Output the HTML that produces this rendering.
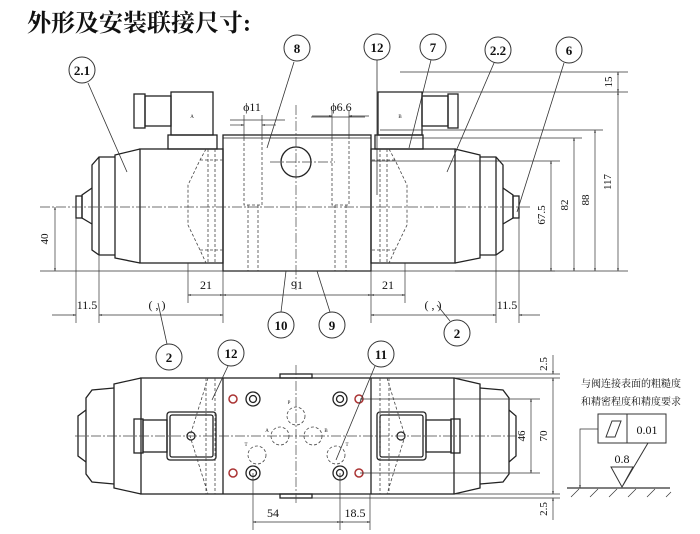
<!DOCTYPE html>
<html><head><meta charset="utf-8"><style>
html,body{margin:0;padding:0;background:#fff}
svg{display:block}
text{font-family:"Liberation Serif","Noto Serif CJK SC",serif;fill:#111}
</style></head><body>
<svg width="700" height="534" viewBox="0 0 700 534" xmlns="http://www.w3.org/2000/svg">
<defs>
<marker id="a" viewBox="0 0 10 10" refX="10" refY="5" markerWidth="6" markerHeight="4" orient="auto-start-reverse"><path d="M0,2 L10,5 L0,8z" fill="#222"/></marker>
</defs>
<text x="27" y="31" font-size="24" font-weight="bold" font-family="'Noto Serif CJK SC',serif">外形及安装联接尺寸:</text>

<g fill="none" stroke="#222" stroke-width="1.3">
<rect x="223" y="135" width="148" height="136"/>
<line x1="223" y1="138" x2="371" y2="138" stroke-width="0.8"/>
<circle cx="296" cy="162" r="15"/>
<rect x="140" y="149" width="83" height="114"/>
<path d="M140,149 L115,155 L115,258 L140,263"/>
<path d="M115,157 L99,157 L92,165 L92,250 L99,255 L115,255"/>
<path d="M92,188 L82,195 L82,218 L92,224"/>
<rect x="76" y="196" width="6" height="22"/>
<line x1="99" y1="157" x2="99" y2="255"/>
<rect x="168" y="135" width="49" height="14"/>
<rect x="171" y="92" width="42" height="43"/>
<rect x="145" y="96" width="26" height="30"/>
<rect x="134" y="94" width="11" height="34"/>
<rect x="371" y="149" width="84" height="114"/>
<path d="M455,149 L480,155 L480,258 L455,263"/>
<path d="M480,157 L496,157 L503,165 L503,250 L496,255 L480,255"/>
<path d="M503,188 L513,195 L513,218 L503,224"/>
<rect x="513" y="196" width="6" height="22"/>
<line x1="496" y1="157" x2="496" y2="255"/>
<rect x="375" y="135" width="48" height="14"/>
<rect x="378" y="92" width="44" height="43"/>
<rect x="422" y="96" width="26" height="30"/>
<rect x="448" y="94" width="10" height="34"/>

<rect x="141" y="378" width="313" height="116"/>
<line x1="223" y1="378" x2="223" y2="494"/>
<line x1="371" y1="378" x2="371" y2="494"/>
<path d="M141,378 L114,384 L114,488 L141,494"/>
<path d="M114,388 L92,390 L86,398 L86,474 L92,482 L114,484"/>
<path d="M86,410 L78,416 L78,456 L86,462"/>
<path d="M454,378 L480,384 L480,488 L454,494"/>
<path d="M480,388 L503,390 L509,398 L509,474 L503,482 L480,484"/>
<path d="M509,410 L516,416 L516,456 L509,462"/>
<rect x="280" y="374" width="32" height="4"/>
<rect x="280" y="494" width="32" height="4"/>
<rect x="167" y="412" width="49" height="48" rx="3"/>
<rect x="170" y="415" width="43" height="42" rx="2"/>
<rect x="143" y="420" width="24" height="32"/>
<rect x="134" y="419" width="9" height="34"/>
<circle cx="191" cy="436" r="4"/>
<rect x="377" y="412" width="49" height="48" rx="3"/>
<rect x="380" y="415" width="43" height="42" rx="2"/>
<rect x="426" y="420" width="25" height="32"/>
<rect x="451" y="419" width="9" height="34"/>
<circle cx="401" cy="436" r="4"/>
<circle cx="253" cy="399" r="7"/><circle cx="253" cy="399" r="3.5"/>
<circle cx="253" cy="473" r="7"/><circle cx="253" cy="473" r="3.5"/>
<circle cx="340" cy="399" r="7"/><circle cx="340" cy="399" r="3.5"/>
<circle cx="340" cy="473" r="7"/><circle cx="340" cy="473" r="3.5"/>
</g>
<g fill="#fff" stroke="#a33" stroke-width="1.5">
<circle cx="233" cy="399" r="4"/><circle cx="233" cy="473" r="4"/>
<circle cx="359" cy="399" r="4"/><circle cx="359" cy="473" r="4"/>
</g>

<g fill="none" stroke="#444" stroke-width="0.8" stroke-dasharray="3,2">
<path d="M244,138 V205 H262 V138 M248,205 V271 M258,205 V271"/>
<path d="M332,138 V205 H349 V138 M335,205 V271 M346,205 V271"/>
<path d="M206,149 L200,160 L188,185 V225 L200,250 L206,263 M208,149 V263 M215,149 V263 M200,160 H223 M200,250 H223"/>
<path d="M389,149 L395,160 L407,185 V225 L395,250 L389,263 M387,149 V263 M380,149 V263 M395,160 H371 M395,250 H371"/>
<path d="M208,378 L190,436 L208,494 M206,378 V494 M215,378 V494"/>
<path d="M387,378 L405,436 L387,494 M389,378 V494 M380,378 V494"/>
<circle cx="296" cy="416" r="9"/><circle cx="280" cy="436" r="9"/><circle cx="313" cy="436" r="9"/>
<circle cx="257" cy="455" r="9"/><circle cx="336" cy="455" r="9"/>
</g>

<g stroke="#444" stroke-width="0.7" fill="none" stroke-dasharray="10,2,2,2">
<line x1="40" y1="207" x2="530" y2="207"/>
<line x1="296" y1="105" x2="296" y2="290"/>
<line x1="270" y1="162" x2="335" y2="162"/>
<line x1="75" y1="436" x2="520" y2="436"/>
<line x1="296" y1="365" x2="296" y2="505"/>
</g>

<g stroke="#333" stroke-width="0.7" fill="none">
<line x1="223" y1="271" x2="555" y2="271"/>
<line x1="40" y1="271" x2="223" y2="271"/>
<line x1="400" y1="72" x2="628" y2="72"/>
<line x1="380" y1="92" x2="628" y2="92"/>
<line x1="380" y1="130" x2="603" y2="130"/>
<line x1="380" y1="138" x2="582" y2="138"/>
<line x1="371" y1="161" x2="560" y2="161"/>
<line x1="455" y1="271" x2="628" y2="271"/>
<line x1="618" y1="72" x2="618" y2="92" marker-start="url(#a)" marker-end="url(#a)"/>
<line x1="618" y1="92" x2="618" y2="271" marker-start="url(#a)" marker-end="url(#a)"/>
<line x1="595" y1="130" x2="595" y2="271" marker-start="url(#a)" marker-end="url(#a)"/>
<line x1="574" y1="138" x2="574" y2="271" marker-start="url(#a)" marker-end="url(#a)"/>
<line x1="551" y1="161" x2="551" y2="271" marker-start="url(#a)" marker-end="url(#a)"/>
<line x1="55" y1="207" x2="55" y2="271" marker-start="url(#a)" marker-end="url(#a)"/>
<line x1="230" y1="120" x2="285" y2="120"/>
<line x1="230" y1="125" x2="244" y2="125" marker-end="url(#a)"/>
<line x1="276" y1="125" x2="262" y2="125" marker-end="url(#a)"/>
<line x1="311" y1="117" x2="365" y2="117"/>
<line x1="312" y1="116" x2="332" y2="116" marker-end="url(#a)"/>
<line x1="369" y1="116" x2="349" y2="116" marker-end="url(#a)"/>
<line x1="244" y1="115" x2="244" y2="138"/><line x1="262" y1="115" x2="262" y2="138"/>
<line x1="332" y1="110" x2="332" y2="138"/><line x1="349" y1="110" x2="349" y2="138"/>
<line x1="188" y1="263" x2="188" y2="303"/><line x1="223" y1="271" x2="223" y2="323"/>
<line x1="371" y1="271" x2="371" y2="323"/><line x1="405" y1="263" x2="405" y2="303"/>
<line x1="188" y1="295" x2="223" y2="295" marker-start="url(#a)" marker-end="url(#a)"/>
<line x1="223" y1="295" x2="371" y2="295" marker-start="url(#a)" marker-end="url(#a)"/>
<line x1="371" y1="295" x2="405" y2="295" marker-start="url(#a)" marker-end="url(#a)"/>
<line x1="76" y1="218" x2="76" y2="323"/><line x1="99" y1="255" x2="99" y2="323"/>
<line x1="519" y1="218" x2="519" y2="323"/><line x1="496" y1="255" x2="496" y2="323"/>
<line x1="52" y1="315" x2="76" y2="315" marker-end="url(#a)"/>
<line x1="99" y1="315" x2="223" y2="315" marker-start="url(#a)" marker-end="url(#a)"/>
<line x1="371" y1="315" x2="496" y2="315" marker-start="url(#a)" marker-end="url(#a)"/>
<line x1="540" y1="315" x2="519" y2="315" marker-end="url(#a)"/>
<line x1="312" y1="374" x2="560" y2="374"/>
<line x1="454" y1="378" x2="560" y2="378"/>
<line x1="360" y1="399" x2="540" y2="399"/>
<line x1="360" y1="473" x2="540" y2="473"/>
<line x1="454" y1="494" x2="560" y2="494"/>
<line x1="312" y1="498" x2="560" y2="498"/>
<line x1="531" y1="399" x2="531" y2="473" marker-start="url(#a)" marker-end="url(#a)"/>
<line x1="553" y1="378" x2="553" y2="494" marker-start="url(#a)" marker-end="url(#a)"/>
<line x1="553" y1="355" x2="553" y2="374" marker-end="url(#a)"/>
<line x1="553" y1="520" x2="553" y2="498" marker-end="url(#a)"/>
<line x1="253" y1="473" x2="253" y2="530"/><line x1="340" y1="473" x2="340" y2="530"/>
<line x1="370" y1="494" x2="370" y2="530"/>
<line x1="253" y1="522" x2="340" y2="522" marker-start="url(#a)" marker-end="url(#a)"/>
<line x1="340" y1="522" x2="370" y2="522" marker-start="url(#a)" marker-end="url(#a)"/>
<rect x="598" y="414" width="68" height="29" stroke-width="1"/>
<line x1="627" y1="414" x2="627" y2="443" stroke-width="1"/>
<path d="M606,437 L612,421 L621,421 L615,437z" stroke-width="1"/>
<path d="M598,429 H580 V488" marker-end="url(#a)"/>
<line x1="567" y1="488" x2="670" y2="488" stroke-width="1.2"/>
<path d="M611,467 H633 L622,487z M622,487 L648,443" stroke-width="1"/>
<path d="M571,497 l8,-8 M590,497 l8,-8 M609,497 l8,-8 M628,497 l8,-8 M647,497 l8,-8 M666,497 l5,-5"/>
</g>

<g stroke="#333" stroke-width="0.8" fill="none">
<line x1="88" y1="83" x2="127" y2="172"/>
<line x1="294" y1="62" x2="267" y2="148"/>
<line x1="377" y1="60" x2="377" y2="195"/>
<line x1="431" y1="60" x2="409" y2="148"/>
<line x1="494" y1="63" x2="447" y2="172"/>
<line x1="564" y1="63" x2="517" y2="212"/>
<line x1="281" y1="312" x2="286" y2="271"/>
<line x1="330" y1="312" x2="317" y2="271"/>
<line x1="167" y1="344" x2="158" y2="303"/>
<line x1="450" y1="321" x2="437" y2="305"/>
<line x1="228" y1="366" x2="212" y2="400"/>
<line x1="375" y1="366" x2="336" y2="460"/>
</g>
<g fill="#fff" stroke="#333" stroke-width="1">
<circle cx="82" cy="70" r="13"/><circle cx="297" cy="48" r="13"/><circle cx="377" cy="47" r="13"/>
<circle cx="433" cy="47" r="13"/><circle cx="498" cy="50" r="13"/><circle cx="569" cy="50" r="13"/>
<circle cx="281" cy="325" r="13"/><circle cx="332" cy="325" r="13"/><circle cx="169" cy="357" r="13"/>
<circle cx="457" cy="333" r="13"/><circle cx="231" cy="353" r="13"/><circle cx="381" cy="354" r="13"/>
</g>
<g font-size="13" text-anchor="middle" font-weight="bold">
<text x="82" y="75">2.1</text><text x="297" y="53">8</text><text x="377" y="52">12</text>
<text x="433" y="52">7</text><text x="498" y="55">2.2</text><text x="569" y="55">6</text>
<text x="281" y="330">10</text><text x="332" y="330">9</text><text x="169" y="362">2</text>
<text x="457" y="338">2</text><text x="231" y="358">12</text><text x="381" y="359">11</text>
</g>
<g font-size="12" text-anchor="middle">
<text x="252" y="111">ϕ11</text><text x="341" y="111">ϕ6.6</text>
<text x="206" y="289">21</text><text x="297" y="289">91</text><text x="388" y="289">21</text>
<text x="87" y="309">11.5</text><text x="157" y="309">( , )</text>
<text x="433" y="309">( , )</text><text x="507" y="309">11.5</text>
<text x="273" y="517">54</text><text x="355" y="517">18.5</text>
<text x="647" y="434">0.01</text><text x="622" y="463">0.8</text>
</g>
<g font-size="11" text-anchor="middle">
<text transform="translate(48,239) rotate(-90)">40</text>
<text transform="translate(612,82) rotate(-90)">15</text>
<text transform="translate(611,182) rotate(-90)">117</text>
<text transform="translate(589,200) rotate(-90)">88</text>
<text transform="translate(568,205) rotate(-90)">82</text>
<text transform="translate(545,215) rotate(-90)">67.5</text>
<text transform="translate(525,436) rotate(-90)">46</text>
<text transform="translate(547,436) rotate(-90)">70</text>
<text transform="translate(547,364) rotate(-90)">2.5</text>
<text transform="translate(547,509) rotate(-90)">2.5</text>
</g>
<g font-size="5" text-anchor="middle">
<text x="192" y="118">A</text><text x="400" y="118">B</text>
<text x="289" y="404">P</text><text x="267" y="432">A</text><text x="326" y="432">B</text>
<text x="246" y="446">T</text><text x="347" y="446">T</text>
</g>
<g font-size="10" font-family="'Noto Serif CJK SC',serif" text-anchor="middle">
<text x="631" y="387">与阀连接表面的粗糙度</text>
<text x="631" y="405">和精密程度和精度要求</text>
</g>
</svg>
</body></html>
